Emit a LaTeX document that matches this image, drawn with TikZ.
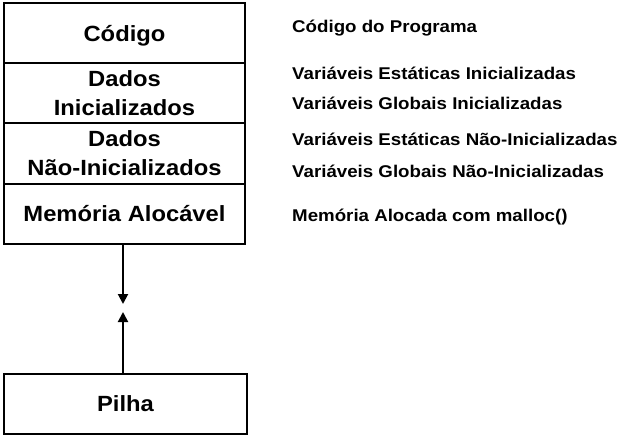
\documentclass[tikz,border=0pt]{standalone}
\usepackage{fontspec}
\setmainfont{Liberation Sans}
\newfontfamily\boxfont[FakeStretch=1.08]{Liberation Sans Bold}
\newfontfamily\lblfont[FakeStretch=1.1]{Liberation Sans Bold}
\usetikzlibrary{arrows.meta}
\begin{document}
\begin{tikzpicture}[x=1pt,y=-1pt,
  seg/.style={draw=black,line width=2pt,minimum width=241pt,inner sep=0pt,
    font=\boxfont\fontsize{22}{29}\selectfont,align=center,anchor=north west},
  lbl/.style={anchor=west,inner sep=0pt,font=\lblfont\fontsize{17}{19}\selectfont},
  arr/.style={line width=2pt,-{Triangle[width=10pt,length=10pt]}}]
\useasboundingbox (0,0) rectangle (623,437);
\node[seg,minimum height=60pt] (cod) at (3,2) {\raisebox{-8pt}[0pt][0pt]{Código}};
\node[seg,minimum height=60pt] (dini) at (3,62) {Dados\\Inicializados};
\node[seg,minimum height=61pt] (dnao) at (3,122) {Dados\\Não-Inicializados};
\node[seg,minimum height=60pt] (mem) at (3,183) {Memória Alocável};
\node[seg,minimum height=60pt,minimum width=243pt] (pilha) at (3,373) {Pilha};
\coordinate (dtip) at (123,304);
\coordinate (utip) at (123,312);
\draw[arr] (mem.south -| dtip) -- (dtip);
\draw[arr] (pilha.north -| utip) -- (utip);
\node[lbl] (l1) at (292,28) {Código do Programa};
\node[lbl] (l2) at (292,73) {Variáveis Estáticas Inicializadas};
\node[lbl] (l3) at (292,103) {Variáveis Globais Inicializadas};
\node[lbl] (l4) at (292,139) {Variáveis Estáticas Não-Inicializadas};
\node[lbl] (l5) at (292,171) {Variáveis Globais Não-Inicializadas};
\node[lbl] (l6) at (292,217) {Memória Alocada com malloc()};
\end{tikzpicture}
\end{document}
